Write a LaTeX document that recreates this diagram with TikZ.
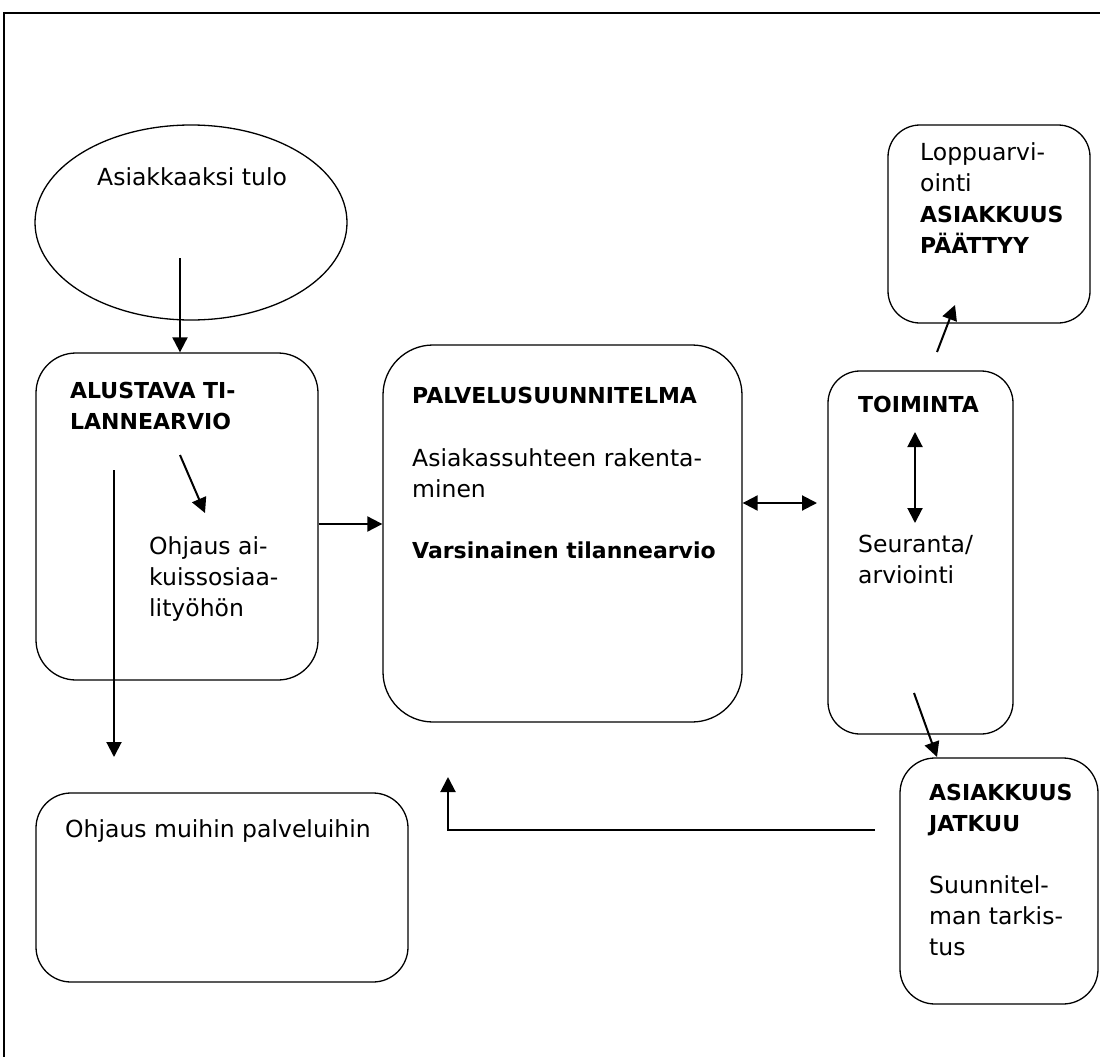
\documentclass[tikz,border=0pt]{standalone}
\usepackage{fontspec}
\setmainfont{DejaVu Sans}
\usetikzlibrary{shapes.geometric,arrows.meta,calc}
\newcommand{\bfx}{\fontsize{22}{31}\selectfont\bfseries}
\begin{document}
\begin{tikzpicture}[x=1pt,y=-1pt,
  box/.style={draw, line width=1.3pt, rectangle, inner sep=0pt},
  txt/.style={anchor=north west, inner sep=0pt, align=left, font=\fontsize{23.5}{31}\selectfont},
  txtb/.style={anchor=north west, inner sep=0pt, align=left, font=\bfx},
  arr/.style={line width=2pt, -{Triangle[length=15pt,width=15pt]}},
  darr/.style={line width=2pt, {Triangle[length=15pt,width=15pt]}-{Triangle[length=15pt,width=15pt]}},
]
\useasboundingbox (0,0) rectangle (1100,1057);
\clip (0,0) rectangle (1100,1057);
% outer frame
\draw[line width=2pt] (4,1070) -- (4,13) -- (1110,13);

% shapes
\node[draw, ellipse, line width=1.3pt, minimum width=312pt, minimum height=195pt, inner sep=0pt] (tulo) at (191,222.5) {};
\node[box, rounded corners=40pt, minimum width=282pt, minimum height=327pt] (alustava) at (177,516.5) {};
\node[box, rounded corners=50pt, minimum width=359pt, minimum height=377pt] (palvelu) at (562.5,533.5) {};
\node[box, rounded corners=32pt, minimum width=185pt, minimum height=363pt] (toiminta) at (920.5,552.5) {};
\node[box, rounded corners=32pt, minimum width=202pt, minimum height=198pt] (loppu) at (989,224) {};
\node[box, rounded corners=35pt, minimum width=198pt, minimum height=246pt] (jatkuu) at (999,881) {};
\node[box, rounded corners=35pt, minimum width=372pt, minimum height=189pt] (muihin) at (222,887.5) {};

% texts
\node[txt] (tulotxt) at (97,163.3) {\strut Asiakkaaksi tulo};
\node[txtb] (alustavatxt) at (70,376.3) {\strut ALUSTAVA TI-\\LANNEARVIO};
\node[txt] (ohjaustxt) at (149,532.3) {\strut Ohjaus ai-\\kuissosiaa-\\lityöhön};
\node[txtb] (palvelutxt) at (412,381.3) {\strut PALVELUSUUNNITELMA};
\node[txt] (asiakastxt) at (412,444.3) {\strut Asiakassuhteen rakenta-\\minen};
\node[txtb] (varsintxt) at (412,536.3) {\strut Varsinainen tilannearvio};
\node[txtb] (toimintatxt) at (858,390.3) {\strut TOIMINTA};
\node[txt] (seurantatxt) at (858,530.3) {\strut Seuranta/\\arviointi};
\node[txt] (lopputxt) at (920,138.3) {\strut Loppuarvi-\\ointi\\{\bfx ASIAKKUUS}\\{\bfx PÄÄTTYY}};
\node[txtb] (jatkuutxt) at (929,778.3) {\strut ASIAKKUUS\\JATKUU};
\node[txt] (suunnitxt) at (929,871.3) {\strut Suunnitel-\\man tarkis-\\tus};
\node[txt] (muihintxt) at (65,815.3) {\strut Ohjaus muihin palveluihin};

% connector points
\coordinate (a1s) at (180,258);
\coordinate (a2s) at (180,455);
\coordinate (a2e) at (205,513);
\coordinate (a3s) at (114,470);
\coordinate (a3e) at (114,757);
\coordinate (a4) at (0,524);
\coordinate (a5) at (817,503);
\coordinate (a6s) at (915,432);
\coordinate (a6e) at (915,523);
\coordinate (a7s) at (937,352);
\coordinate (a7e) at (955,305);
\coordinate (a8s) at (914,693);
\coordinate (a8e) at (937,757);
\coordinate (a9s) at (875,830);
\coordinate (a9m) at (448,830);
\coordinate (a9e) at (448,777);

% connectors
\draw[arr] (a1s) -- (a1s |- alustava.north);
\draw[arr] (a2s) -- (a2e);
\draw[arr] (a3s) -- (a3e);
\draw[arr] (alustava.east |- a4) -- (palvelu.west |- a4);
\draw[darr] (palvelu.east |- a5) -- (a5);
\draw[darr] (a6s) -- (a6e);
\draw[arr] (a7s) -- (a7e);
\draw[arr] (a8s) -- (a8e);
\draw[arr] (a9s) -- (a9m) -- (a9e);
\end{tikzpicture}
\end{document}
